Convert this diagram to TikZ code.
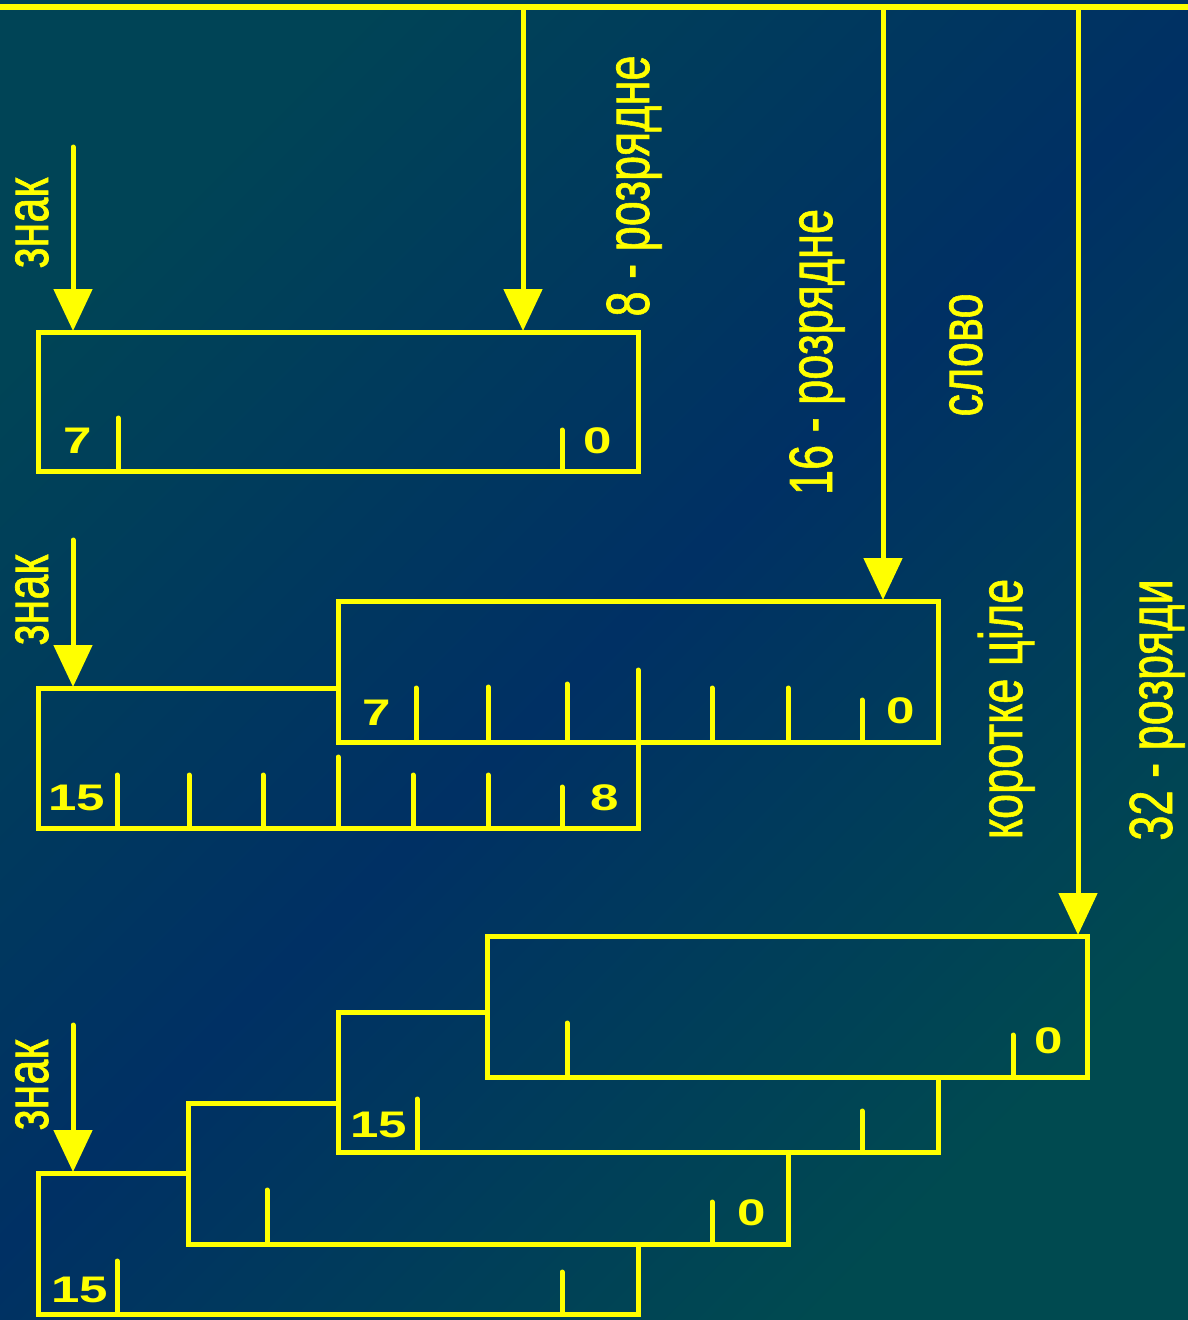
\documentclass[tikz,border=0pt]{standalone}
\usepackage{fontspec}
\setmainfont{Liberation Sans}
\newfontfamily\lblfont[FakeBold=1.2]{Liberation Sans}
\usetikzlibrary{arrows.meta}
\definecolor{bgA}{RGB}{0,68,86}
\definecolor{bgB}{RGB}{0,48,100}
\definecolor{bgC}{RGB}{0,74,80}
\definecolor{ylw}{RGB}{255,255,0}
\pgfdeclarehorizontalshading{bgshade}{100bp}{color(0bp)=(bgA); color(25bp)=(bgA); color(50bp)=(bgB); color(75bp)=(bgC); color(100bp)=(bgC)}
\newcommand{\lbltext}[1]{\scalebox{0.74}[1]{#1}}
\newcommand{\numtext}[1]{\scalebox{1.38}[1]{#1}}
\begin{document}
\begin{tikzpicture}[x=1pt,y=-1pt,
  wire/.style={draw=ylw, line width=6pt},
  frame/.style={draw=ylw, line width=5pt, line join=miter},
  tick/.style={draw=ylw, line width=5pt, line cap=round},
  feed/.style={draw=ylw, line width=5pt, -{Triangle[width=38pt,length=42pt]}},
  signfeed/.style={feed, line cap=round},
  lbl/.style={rotate=90, anchor=base, inner sep=0pt, text=ylw, font=\lblfont\fontsize{61}{61}\selectfont},
  num/.style={anchor=base, inner sep=0pt, text=ylw, font=\fontsize{37}{37}\selectfont\bfseries}]
\shade[shading=bgshade, shading angle=-45] (0,0) rectangle (1188,1320);
\useasboundingbox (0,0) rectangle (1188,1320);

% bus coordinates
\coordinate (busL) at (0,7);
\coordinate (busR) at (1188,7);
\coordinate (tap8) at (523,7);
\coordinate (tap16) at (883,7);
\coordinate (tap32) at (1078,7);
\coordinate (in8) at (523,331);
\coordinate (in16) at (883,600);
\coordinate (in32) at (1078,935);
\coordinate (s1top) at (73,147);
\coordinate (s1) at (73,331);
\coordinate (s2top) at (73,540);
\coordinate (s2) at (73,687);
\coordinate (s3top) at (73,1025);
\coordinate (s3) at (73,1172);

\draw[wire] (busL) -- (busR);
\draw[feed] (tap8) -- (in8);
\draw[feed] (tap16) -- (in16);
\draw[feed] (tap32) -- (in32);
\draw[signfeed] (s1top) -- (s1);
\draw[signfeed] (s2top) -- (s2);
\draw[signfeed] (s3top) -- (s3);

% 8-bit
\draw[frame] (38,332) rectangle (638,471);
\draw[tick] (118,418) -- (118,471);
\draw[tick] (562,430) -- (562,471);
\node[num] (n1a) at (78,453) {\numtext{7}};
\node[num] (n1b) at (598,453) {\numtext{0}};

% 16-bit
\draw[frame] (338,601) rectangle (938,742);
\draw[frame] (338,688) -- (38,688) -- (38,828) -- (638,828) -- (638,742);
\foreach \x/\t in {416/688,488/687,567/684,638/670,712/688,788/688,862/700}
  \draw[tick] (\x,\t) -- (\x,742);
\foreach \x/\t in {117/775,189/775,263/775,338/757,413/775,488/775,562/787}
  \draw[tick] (\x,\t) -- (\x,828);
\node[num] (n2a) at (377,725) {\numtext{7}};
\node[num] (n2b) at (901,723) {\numtext{0}};
\node[num] (n2c) at (77,810) {\numtext{15}};
\node[num] (n2d) at (605,810) {\numtext{8}};

% 32-bit
\draw[frame] (487,936) rectangle (1087,1077);
\draw[frame] (487,1012) -- (338,1012) -- (338,1152) -- (938,1152) -- (938,1077);
\draw[frame] (338,1103) -- (188,1103) -- (188,1244) -- (788,1244) -- (788,1152);
\draw[frame] (188,1173) -- (38,1173) -- (38,1314) -- (638,1314) -- (638,1244);
\draw[tick] (567,1023) -- (567,1077);
\draw[tick] (1013,1035) -- (1013,1077);
\draw[tick] (417,1099) -- (417,1152);
\draw[tick] (862,1111) -- (862,1152);
\draw[tick] (267,1190) -- (267,1244);
\draw[tick] (712,1202) -- (712,1244);
\draw[tick] (117,1261) -- (117,1314);
\draw[tick] (562,1272) -- (562,1314);
\node[num] (n3a) at (1049,1053) {\numtext{0}};
\node[num] (n3b) at (379,1137) {\numtext{15}};
\node[num] (n3c) at (752,1225) {\numtext{0}};
\node[num] (n3d) at (80,1302) {\numtext{15}};

% rotated labels
\node[lbl] (sign1) at (48,223) {\lbltext{знак}};
\node[lbl] (sign2) at (48,600) {\lbltext{знак}};
\node[lbl] (sign3) at (48,1085) {\lbltext{знак}};
\node[lbl] (w8) at (649,186) {\lbltext{8 - розрядне}};
\node[lbl] (w16) at (832,352) {\lbltext{16 - розрядне}};
\node[lbl] (wword) at (982,355) {\lbltext{слово}};
\node[lbl] (wshort) at (1022,709) {\lbltext{коротке ціле}};
\node[lbl] (w32) at (1172,710) {\lbltext{32 - розряди}};
\end{tikzpicture}
\end{document}
